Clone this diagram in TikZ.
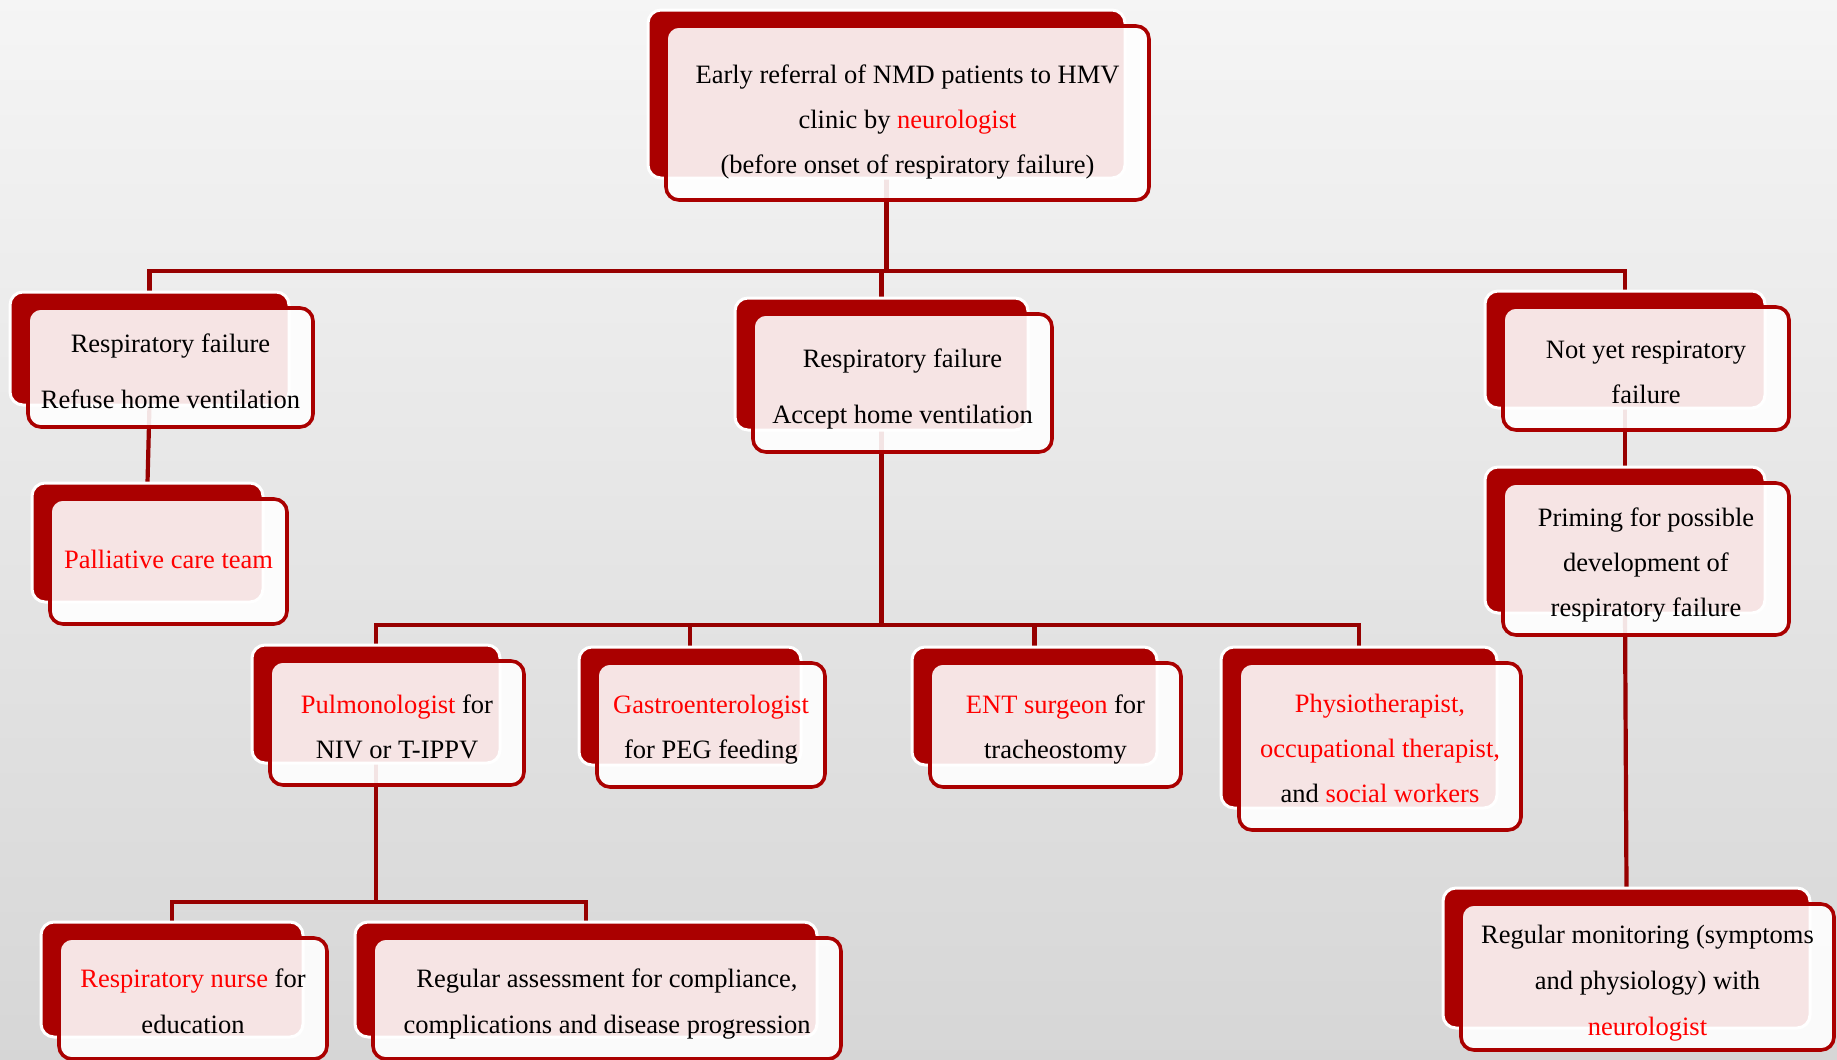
\documentclass[tikz,border=0pt]{standalone}
\usepackage{fontspec}
\setmainfont{Liberation Serif}
\definecolor{boxred}{HTML}{AA0000}
\definecolor{conred}{HTML}{970000}
\pgfdeclarelayer{bgl}
\pgfdeclarelayer{conl}
\pgfsetlayers{bgl,conl,main}
\tikzset{
  backbox/.style={draw=white, line width=3pt, fill=boxred, rounded corners=13pt, inner sep=0pt, outer sep=0pt},
  frontbox/.style={draw=boxred, line width=3.6pt, fill=white, fill opacity=0.895, draw opacity=1, rounded corners=13pt, inner sep=0pt, outer sep=0pt},
  txt/.style={anchor=base, inner sep=0pt, outer sep=0pt, font=\fontsize{26.5}{45}\selectfont},
  conn/.style={draw=conred, line width=4.2pt, line join=miter}
}
\newcommand\redt[1]{\textcolor{red}{#1}}
\newcommand\blines[2]{\vtop{\baselineskip=#1pt\tabskip=0pt\halign{\hfil##\hfil\cr#2\crcr}}}
% #1 name, #2 x1, #3 y1, #4 x2, #5 y2, #6 first baseline, #7 line spacing, #8 text
\newcommand\nbox[8]{%
  \node[backbox, minimum width={#4-#2}, minimum height={#5-#3}] (#1B) at ({(#2+#4)/2},{(#3+#5)/2}) {};
  \node[frontbox, minimum width={#4-#2+6}, minimum height={#5-#3+6}] (#1F) at ({(#2+#4)/2+21},{(#3+#5)/2+19}) {};
  \node[txt] (#1T) at (#1F.center |- 0,#6) {\blines{#7}{#8}};
}
\begin{document}
\begin{tikzpicture}[x=1pt,y=-1pt]
\useasboundingbox (0,0) rectangle (1837,1060);
\begin{pgfonlayer}{bgl}
\shade[top color=black!4, bottom color=black!16] (0,0) rectangle (1837,1060);
\end{pgfonlayer}

\nbox{top}{648}{10}{1125}{178}{83}{45}{Early referral of NMD patients to HMV\cr clinic by \redt{neurologist}\cr (before onset of respiratory failure)}
\nbox{left}{10}{292}{289}{405}{352}{56}{Respiratory failure\cr Refuse home ventilation}
\nbox{palli}{32}{483}{263}{602}{568}{45}{\redt{Palliative care team}}
\nbox{mid}{735}{298}{1028}{430}{367}{56}{Respiratory failure\cr Accept home ventilation}
\nbox{right}{1485}{291}{1765}{408}{358}{45}{Not yet respiratory\cr failure}
\nbox{prim}{1485}{467}{1765}{613}{526}{45}{Priming for possible\cr development of\cr respiratory failure}
\nbox{mon}{1443}{888}{1810}{1028}{943}{46}{Regular monitoring (symptoms\cr and physiology) with\cr \redt{neurologist}}
\nbox{pulm}{252}{645}{500}{763}{713}{45}{\redt{Pulmonologist} for\cr NIV or T-IPPV}
\nbox{gast}{579}{647}{801}{765}{713}{45}{\redt{Gastroenterologist}\cr for PEG feeding}
\nbox{ent}{912}{647}{1157}{765}{713}{45}{\redt{ENT surgeon} for\cr tracheostomy}
\nbox{phys}{1221}{647}{1497}{808}{712}{45}{\redt{Physiotherapist,}\cr \redt{occupational therapist,}\cr and \redt{social workers}}
\nbox{nurse}{41}{922}{303}{1037}{987}{46}{\redt{Respiratory nurse} for\cr education}
\nbox{assess}{355}{922}{817}{1037}{987}{46}{Regular assessment for compliance,\cr complications and disease progression}

\begin{pgfonlayer}{conl}
\coordinate (busA) at (0,271);
\coordinate (busB) at (0,625);
\coordinate (busC) at (0,902);
\draw[conn] (topB.south) -- (topB.south |- busA);
\draw[conn] (leftB.north) -- (leftB.north |- busA) -- (rightB.north |- busA) -- (rightB.north);
\draw[conn] (midB.north) -- (midB.north |- busA);
\draw[conn] (leftB.south) -- (palliB.north);
\draw[conn] (rightB.south) -- (primB.north);
\draw[conn] (primB.south) -- (monB.north);
\draw[conn] (midB.south) -- (midB.south |- busB);
\draw[conn] (pulmB.north) -- (pulmB.north |- busB) -- (physB.north |- busB) -- (physB.north);
\draw[conn] (gastB.north) -- (gastB.north |- busB);
\draw[conn] (entB.north) -- (entB.north |- busB);
\draw[conn] (pulmB.south) -- (pulmB.south |- busC);
\draw[conn] (nurseB.north) -- (nurseB.north |- busC) -- (assessB.north |- busC) -- (assessB.north);
\end{pgfonlayer}
\end{tikzpicture}
\end{document}
